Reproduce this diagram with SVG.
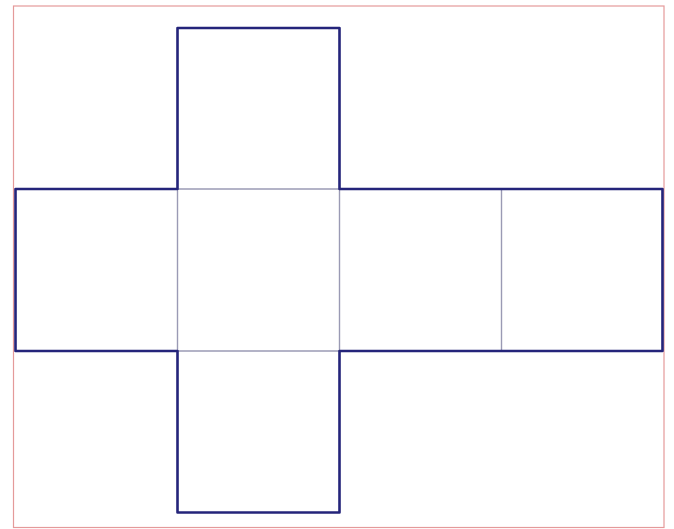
<svg xmlns="http://www.w3.org/2000/svg" width="674" height="529" viewBox="0 0 674 529">
<style>
.frame{fill:none;stroke:#e49a9a;stroke-width:1.2}
.outer{fill:none;stroke:#24247a;stroke-width:2.6;stroke-linejoin:round}
.inner{fill:none;stroke:#9a9ab4;stroke-width:1.4}
</style>
<rect class="frame" x="13.5" y="6" width="650.5" height="521.5"/>
<g id="folds">
<line class="inner" x1="177.5" y1="189" x2="339.5" y2="189"/>
<line class="inner" x1="177.5" y1="351" x2="339.5" y2="351"/>
<line class="inner" x1="177.5" y1="189" x2="177.5" y2="351"/>
<line class="inner" x1="339.5" y1="189" x2="339.5" y2="351"/>
<line class="inner" x1="501.5" y1="189" x2="501.5" y2="351"/>
</g>
<g id="net">
<path class="outer" d="M177.5 28 L339.5 28 L339.5 189 L662.5 189 L662.5 351 L339.5 351 L339.5 512.5 L177.5 512.5 L177.5 351 L15.5 351 L15.5 189 L177.5 189 Z"/>
</g>
</svg>
